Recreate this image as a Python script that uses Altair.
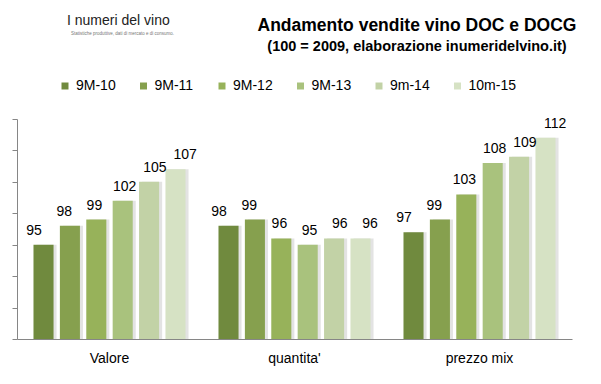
import altair as alt
import pandas as pd

categories = ["Valore", "quantita'", "prezzo mix"]
series = ["9M-10", "9M-11", "9M-12", "9M-13", "9m-14", "10m-15"]
colors = ["#708A3E", "#86A04E", "#97B25A", "#A9C27D", "#C2D2A6", "#D6E2C4"]
valore = [95, 98, 99, 102, 105, 107]
quantita = [98, 99, 96, 95, 96, 96]
prezzo = [97, 99, 103, 108, 109, 112]
y_ticks = [80, 85, 90, 95, 100, 105, 110, 115]
title_text = "Andamento vendite vino DOC e DOCG"
subtitle_text = "(100 = 2009, elaborazione inumeridelvino.it)"
logo_text = "I numeri del vino"
logo_tagline = "Statistiche produttive, dati di mercato e di consumo."

rows = []
for cat, vals in zip(categories, [valore, quantita, prezzo]):
    for s, v in zip(series, vals):
        rows.append({"cat": cat, "serie": s, "val": v})
df = pd.DataFrame(rows)

FONT = "Liberation Sans"
GREY = "#868686"

x = alt.X("cat:N", sort=categories, title=None,
          scale=alt.Scale(paddingInner=0.144, paddingOuter=0.072),
          axis=alt.Axis(labelAngle=0, labelFontSize=14, labelFont=FONT,
                        labelColor="#000", ticks=False, domainColor=GREY,
                        labelPadding=12))
y = alt.Y("val:Q", title=None,
          scale=alt.Scale(domain=[80, 115], nice=False, zero=False),
          axis=alt.Axis(values=y_ticks, labels=False, grid=False,
                        tickSize=5, tickColor=GREY, domainColor=GREY))
xo = alt.XOffset("serie:N", sort=series,
                 scale=alt.Scale(paddingInner=0.24, paddingOuter=0.12))
xo_shadow = alt.XOffset("serie:N", sort=series,
                        scale=alt.Scale(paddingInner=0.24, paddingOuter=0.12,
                                        range=[3, 161.4]))

color = alt.Color("serie:N", sort=series,
                  scale=alt.Scale(domain=series, range=colors),
                  legend=alt.Legend(orient="none", legendX=41, legendY=-40,
                                    direction="horizontal", columns=6,
                                    gridAlign="all", symbolType="square",
                                    symbolSize=49, symbolStrokeWidth=0,
                                    labelFontSize=14, labelFont=FONT,
                                    labelColor="#000", labelOffset=4,
                                    columnPadding=12.5, title=None, padding=0))

shadow = alt.Chart(df).mark_bar(color="#e3e3e3").encode(
    x=x, xOffset=xo_shadow, y=y, y2=alt.datum(80))

bars = alt.Chart(df).mark_bar().encode(
    x=x, xOffset=xo, y=y, y2=alt.datum(80), color=color)

labels = alt.Chart(df).mark_text(dy=-10, baseline="alphabetic", fontSize=14,
                                 font=FONT, color="#000").encode(
    x=x, xOffset=xo, y=y, text="val:Q")


def text_layer(txt, px, py, **kw):
    return alt.Chart(pd.DataFrame({"t": [txt]})).mark_text(
        baseline="alphabetic", **kw).encode(
        text="t:N", x=alt.value(px), y=alt.value(py))


title = text_layer(title_text, 400, -88, align="center", fontSize=17.5,
                   font=FONT, fontWeight="bold", color="#000")
subtitle = text_layer(subtitle_text, 400, -68, align="center", fontSize=14.5,
                      font=FONT, fontWeight="bold", color="#000")
logo1 = text_layer(logo_text, 50, -94, align="left", fontSize=14,
                   font=FONT, color="#222222")
logo2 = text_layer(logo_tagline, 54, -84, align="left", fontSize=4.5,
                   font=FONT, color="#777777")

chart = alt.layer(shadow, bars, labels, title, subtitle, logo1, logo2).resolve_scale(
    xOffset="independent"
).properties(
    width=555, height=220,
    autosize=alt.AutoSizeParams(type="none"),
    padding={"left": 9, "top": 111, "right": 20, "bottom": 30},
).configure_view(stroke=None)

chart.save("out.html", embed_options={"renderer": "svg", "actions": False})
